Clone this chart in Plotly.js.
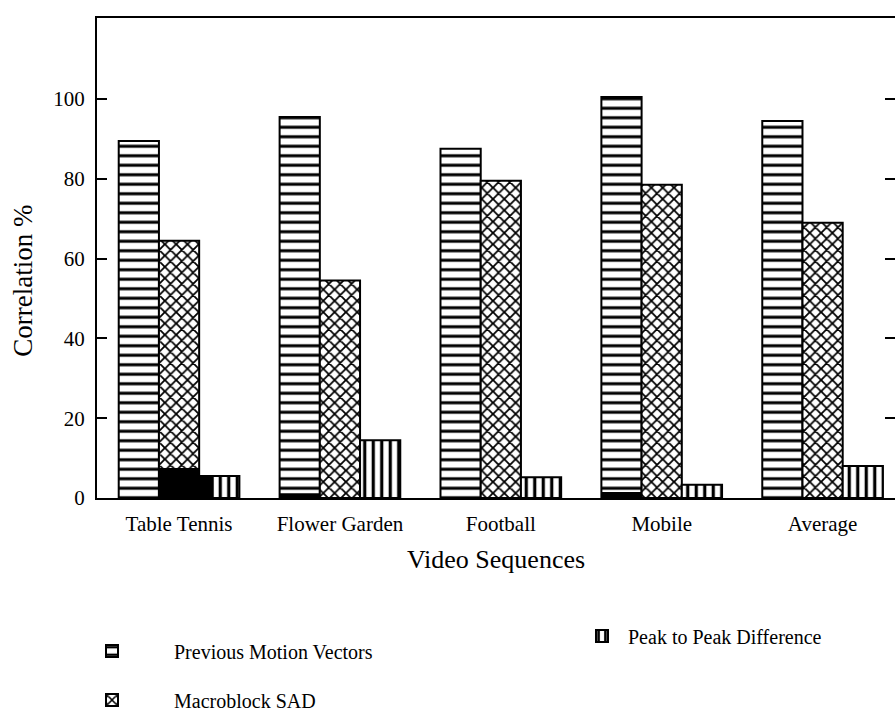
<!DOCTYPE html>
<html>
<head>
<meta charset="utf-8">
<script src="https://cdn.plot.ly/plotly-3.0.1.min.js"></script>
<style>html,body{margin:0;padding:0;overflow:hidden;background:#fff}</style>
</head>
<body>
<div id="chart" style="width:895px;height:721px"></div>
<script>
// ---- data ----
const categories = ["Table Tennis", "Flower Garden", "Football", "Mobile", "Average"];
const previousMotionVectors = [89.5, 95.5, 87.5, 100.5, 94.5];
const macroblockSAD = [64.5, 54.5, 79.5, 78.5, 69];
const peakToPeakDifference = [5.5, 14.5, 5.2, 3.3, 8];
// dark (unlabelled) fills visible at the foot of some bars
const darkUnderPMV = [0, 1.2, 0, 1.5, 0];
const darkUnderSAD = [7.5, 0, 0, 0, 0];
const darkUnderPeak = [5.5, 0, 0, 0, 0];
const yTicks = [0, 20, 40, 60, 80, 100];
const topTicks = [0, 0.5, 1, 1.5, 2, 2.5, 3, 3.5, 4];

const FONT = "Liberation Serif, Times New Roman, serif";
const W = 0.25;
const outline = {color: "#000", width: 2};

const traces = [
  {type: "bar", name: "Previous Motion Vectors", x: categories, y: previousMotionVectors,
   width: W, offset: -0.375, legend: "legend",
   marker: {color: "#fff", line: outline,
     pattern: {shape: "-", fgcolor: "#000", bgcolor: "#fff", size: 9.5, solidity: 0.32, fillmode: "replace"}}},
  {type: "bar", name: "Macroblock SAD", x: categories, y: macroblockSAD,
   width: W, offset: -0.125, legend: "legend2",
   marker: {color: "#fff", line: outline,
     pattern: {shape: "x", fgcolor: "#000", bgcolor: "#fff", size: 8, solidity: 0.4, fillmode: "replace"}}},
  {type: "bar", name: "Peak to Peak Difference", x: categories, y: peakToPeakDifference,
   width: W, offset: 0.125, legend: "legend3",
   marker: {color: "#fff", line: outline,
     pattern: {shape: "|", fgcolor: "#000", bgcolor: "#fff", size: 8.5, solidity: 0.38, fillmode: "replace"}}},
  {type: "bar", x: categories, y: darkUnderPMV, width: W, offset: -0.375, showlegend: false,
   marker: {color: "#000", line: {width: 0}}, hoverinfo: "skip"},
  {type: "bar", x: categories, y: darkUnderSAD, width: W, offset: -0.125, showlegend: false,
   marker: {color: "#000", line: {width: 0}}, hoverinfo: "skip"},
  {type: "bar", x: categories, y: darkUnderPeak, width: 0.09, offset: 0.125, showlegend: false,
   marker: {color: "#000", line: {width: 0}}, hoverinfo: "skip"}
];

const legendBase = {
  xref: "container", yref: "container", xanchor: "left", yanchor: "middle",
  bgcolor: "rgba(0,0,0,0)", borderwidth: 0,
  font: {family: FONT, size: 20, color: "#000"}
};

const layout = {
  width: 895, height: 721,
  margin: {l: 97, r: 0, t: 18, b: 223, autoexpand: false},
  paper_bgcolor: "#fff", plot_bgcolor: "#fff",
  barmode: "overlay",
  font: {family: FONT, color: "#000"},
  xaxis: {
    type: "category", range: [-0.51, 4.45],
    showline: true, linecolor: "#000", linewidth: 2, mirror: true,
    ticks: "", showgrid: false, zeroline: false, automargin: true,
    ticklabelstandoff: 6,
    tickfont: {family: FONT, size: 21, color: "#000"},
    title: {text: "Video Sequences", font: {family: FONT, size: 26, color: "#000"}, standoff: 15}
  },
  xaxis2: {
    overlaying: "x", side: "top", anchor: "y", range: [-0.51, 4.45],
    tickvals: topTicks, ticks: "inside", ticklen: 10, tickwidth: 2, tickcolor: "#000",
    showticklabels: false, showgrid: false, zeroline: false, showline: false
  },
  yaxis: {
    range: [0, 120.3], tickvals: yTicks, ticktext: yTicks.map(String),
    ticks: "inside", ticklen: 10, tickwidth: 2, tickcolor: "#000",
    showline: true, linecolor: "#000", linewidth: 2, mirror: "ticks",
    showgrid: false, zeroline: false, automargin: false,
    ticklabelstandoff: 6,
    tickfont: {family: FONT, size: 21, color: "#000"}
  },
  annotations: [{
    text: "Correlation %", textangle: -90, showarrow: false,
    xref: "paper", yref: "paper", x: -0.093, y: 0.452, xanchor: "center", yanchor: "middle",
    font: {family: FONT, size: 27, color: "#000"}
  }],
  legend: Object.assign({}, legendBase, {x: 50 / 895, y: 1 - 651 / 721, itemwidth: 114}),
  legend2: Object.assign({}, legendBase, {x: 50 / 895, y: 1 - 700 / 721, itemwidth: 114}),
  legend3: Object.assign({}, legendBase, {x: 576 / 895, y: 1 - 636 / 721, itemwidth: 42}),
  showlegend: true
};

Plotly.newPlot("chart", traces, layout, {displayModeBar: false, staticPlot: true});
</script>
</body>
</html>
